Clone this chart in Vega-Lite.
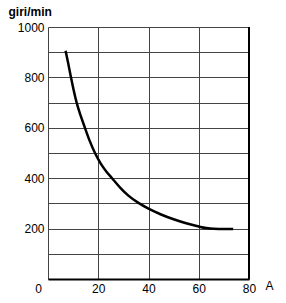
{
  "$schema": "https://vega.github.io/schema/vega-lite/v6.json",
  "autosize": "none",
  "padding": {"left": 48, "top": 27, "right": 37, "bottom": 24},
  "width": 201,
  "height": 252,
  "background": "white",
  "config": {
    "view": {"stroke": null},
    "font": "Liberation Sans"
  },
  "data": {
    "values": [
      {"A": 7.0, "rpm": 906},
      {"A": 8.0, "rpm": 858},
      {"A": 9.15, "rpm": 800},
      {"A": 10.2, "rpm": 750},
      {"A": 11.4, "rpm": 700},
      {"A": 13.0, "rpm": 648},
      {"A": 14.7, "rpm": 600},
      {"A": 16.6, "rpm": 548},
      {"A": 18.7, "rpm": 500},
      {"A": 21.0, "rpm": 458},
      {"A": 23.2, "rpm": 427},
      {"A": 25.5, "rpm": 400},
      {"A": 28.7, "rpm": 363},
      {"A": 32.0, "rpm": 331},
      {"A": 36.0, "rpm": 302},
      {"A": 40.0, "rpm": 279},
      {"A": 45.0, "rpm": 256},
      {"A": 50.0, "rpm": 237},
      {"A": 55.0, "rpm": 221},
      {"A": 60.0, "rpm": 208},
      {"A": 63.0, "rpm": 202},
      {"A": 66.0, "rpm": 199},
      {"A": 70.0, "rpm": 198},
      {"A": 73.7, "rpm": 198}
    ]
  },
  "layer": [
    {
      "mark": {"type": "line", "color": "black", "strokeWidth": 2.5, "interpolate": "monotone"},
      "encoding": {
        "x": {
          "field": "A", "type": "quantitative",
          "scale": {"domain": [0, 80], "nice": false, "zero": false},
          "axis": {
            "values": [0, 10, 20, 30, 40, 50, 60, 70, 80],
            "labelExpr": "datum.value % 20 == 0 ? datum.label : ''",
            "labelFlush": false,
            "labelOffset": {"condition": {"test": "datum.value == 0", "value": -10}, "value": 0},
            "labelFontSize": 12, "labelColor": "black", "labelPadding": 4,
            "ticks": false,
            "domainColor": "black", "domainWidth": 2,
            "grid": true, "gridColor": "#444", "gridWidth": 1, "gridOpacity": 1,
            "title": "A", "titleFontSize": 12, "titleFontWeight": "normal", "titleColor": "black",
            "titleX": 221, "titleY": 10, "titleBaseline": "alphabetic", "titleAlign": "center"
          }
        },
        "y": {
          "field": "rpm", "type": "quantitative",
          "scale": {"domain": [0, 1000], "nice": false},
          "axis": {
            "values": [0, 100, 200, 300, 400, 500, 600, 700, 800, 900, 1000],
            "labelExpr": "datum.value % 200 == 0 && datum.value > 0 ? datum.label : ''",
            "labelFlush": false,
            "format": "d",
            "labelFontSize": 12, "labelColor": "black", "labelPadding": 4,
            "ticks": false, "domain": false,
            "grid": true, "gridColor": "#444", "gridWidth": 1, "gridOpacity": 1,
            "title": "giri/min", "titleAngle": 0, "titleFontSize": 12, "titleFontWeight": "bold", "titleColor": "black",
            "titleX": -40, "titleY": -12, "titleAlign": "left", "titleBaseline": "alphabetic"
          }
        }
      }
    },
    {
      "mark": {"type": "rule", "color": "black", "strokeWidth": 2},
      "encoding": {
        "x": {"datum": 80, "type": "quantitative"}
      }
    }
  ]
}
